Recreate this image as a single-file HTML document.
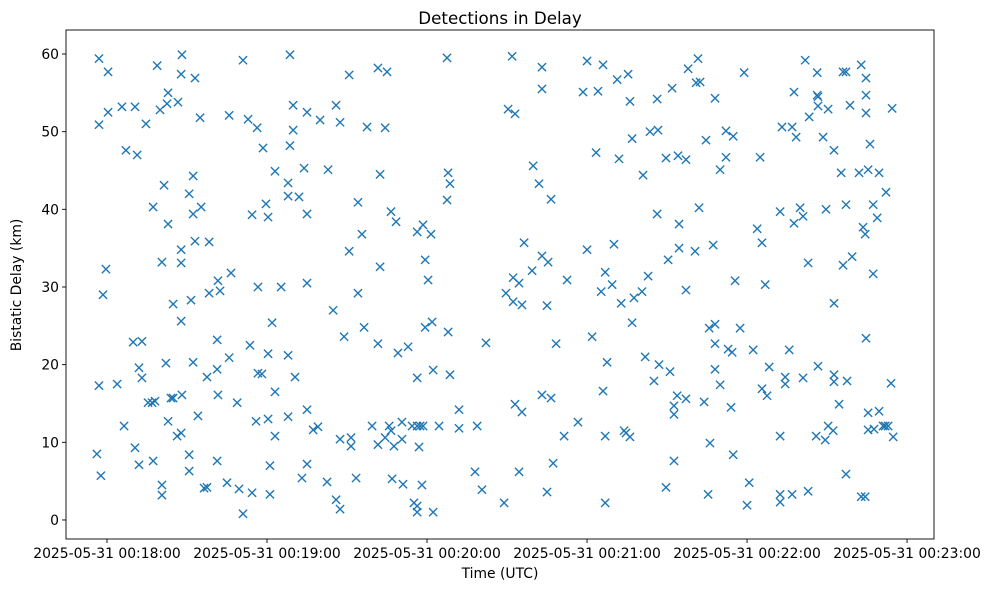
<!DOCTYPE html>
<html><head><meta charset="utf-8"><style>
html,body{margin:0;padding:0;background:#fff;}
svg text{font-family:"DejaVu Sans","Liberation Sans",sans-serif;fill:#000;}
</style></head><body>
<svg id="chart" width="986" height="590" viewBox="0 0 986 590" xmlns="http://www.w3.org/2000/svg">
<rect x="0" y="0" width="986" height="590" fill="#fff"/>
<text x="500" y="24" font-size="16.7" text-anchor="middle">Detections in Delay</text>
<text x="500" y="578" font-size="13.9" text-anchor="middle">Time (UTC)</text>
<text x="21" y="285" font-size="13.9" text-anchor="middle" transform="rotate(-90 21 285)">Bistatic Delay (km)</text>
<g id="ticks"></g>
<g id="marks"></g>
<rect x="66" y="30" width="868" height="509" fill="none" stroke="#000" stroke-width="0.9"/>
</svg>
<script>
// seconds after 2025-05-31 00:18:00 UTC
const times = [-3.0,0.4,18.8,28.1,27.8,33.0,51.0,22.9,22.5,19.9,26.6,5.6,10.5,0.4,-3.0,14.6,34.9,45.8,52.9,56.3,7.1,11.3,32.3,21.4,30.8,17.3,32.3,35.3,54.4,22.9,33.0,38.3,27.8,20.6,27.8,-0.4,-1.5,46.5,41.6,42.4,38.3,31.5,24.8,27.8,56.6,9.8,13.1,41.3,53.6,22.1,32.3,12.0,13.1,45.8,41.3,37.5,56.6,-3.0,3.8,15.4,16.9,18.0,24.0,24.8,28.1,41.6,48.8,6.4,22.9,34.1,55.9,26.3,27.8,-3.8,10.5,12.0,17.3,30.8,30.8,41.3,-2.3,20.6,20.6,36.4,37.5,45.0,49.5,54.4,51.0,
68.6,90.8,101.6,105.0,69.8,75.0,79.9,85.9,87.4,97.5,104.3,69.8,58.5,68.6,63.0,73.9,82.9,102.4,67.9,67.9,72.0,59.6,60.4,75.0,94.1,106.5,108.4,116.3,118.5,121.5,95.6,90.8,102.4,119.3,120.4,65.3,75.0,94.1,84.8,61.9,96.4,88.9,101.6,109.1,112.9,119.3,121.9,60.4,67.9,58.1,70.5,116.3,122.3,63.0,60.4,67.9,75.0,77.3,79.1,63.0,87.4,91.5,91.5,99.4,101.6,104.3,106.5,105.8,107.6,110.6,110.6,114.4,116.3,117.4,118.5,117.0,61.1,75.0,73.1,82.5,93.4,106.9,111.0,118.1,61.1,85.9,87.4,115.1,116.3,116.3,122.3,
127.5,151.9,163.1,180.0,186.0,163.1,178.5,184.1,150.4,153.0,183.4,159.8,127.9,128.6,162.0,127.5,166.5,156.4,180.0,163.1,165.4,159.4,152.3,154.5,172.5,186.8,185.3,149.6,152.3,155.6,165.0,127.9,142.1,168.4,181.9,187.5,128.6,186.0,163.1,166.5,153.0,155.6,132.0,124.5,132.0,138.8,176.6,171.4,186.8,138.0,154.5,167.3,140.6,165.0,148.9,186.8,
191.3,195.4,217.9,221.6,220.9,222.4,211.9,238.9,196.1,206.3,228.0,196.9,203.6,206.6,224.6,232.1,234.8,192.0,209.6,214.1,217.1,232.1,244.9,229.9,201.0,206.3,222.0,214.5,243.8,245.6,190.1,214.5,220.5,227.3,210.4,189.4,202.9,217.1,235.5,246.8,197.6,200.6,192.8,196.9,225.8,228.0,237.4,228.0,232.9,234.4,242.3,201.8,207.0,211.1,228.0,248.3,205.1,229.9,245.6,247.5,213.8,217.1,223.9,212.6,212.6,234.0,193.9,194.6,196.1,226.1,234.8,212.6,209.6,225.4,240.8,240.0,
261.8,266.3,276.0,277.1,282.8,284.6,257.6,266.3,266.6,284.6,266.6,270.4,278.6,284.6,294.4,263.3,253.1,256.9,258.4,268.5,272.6,286.1,275.3,282.0,285.4,289.5,292.1,252.4,259.9,261.0,257.6,269.6,277.1,287.3,288.8,283.5,284.3,262.9,276.0,279.4,287.3,272.6,284.6,255.8,266.6,254.3,254.3,261.0,272.6,272.6,277.5,294.0,274.5,285.4,289.5,252.4,265.9,269.3,270.4,272.3,285.4,287.6,291.0,291.8,292.9,294.8,277.1,252.4,252.4,256.9,262.9,282.8,284.3];
const delays = [59.4,57.7,58.5,59.9,57.4,56.9,59.2,55.0,53.6,52.8,53.8,53.2,53.2,52.5,50.9,51.0,51.8,52.1,51.6,50.5,47.6,47.0,44.3,43.1,42.0,40.3,39.4,40.3,39.3,38.1,35.9,35.8,34.8,33.2,33.1,32.3,29.0,31.8,30.8,29.5,29.2,28.3,27.8,25.6,30.0,22.9,23.0,23.2,22.5,20.2,20.3,19.6,18.3,20.9,19.4,18.4,18.9,17.3,17.5,15.1,15.1,15.3,15.7,15.7,16.1,16.1,15.1,12.1,12.7,13.4,12.7,10.8,11.2,8.5,9.3,7.1,7.6,8.4,6.3,7.6,5.7,4.5,3.2,4.1,4.2,4.8,4.0,3.5,0.8,
59.9,57.3,58.2,57.7,53.4,52.5,51.5,53.4,51.2,50.6,50.5,50.2,47.9,48.2,44.9,45.3,45.1,44.5,43.4,41.7,41.6,40.7,39.0,39.4,40.9,39.7,38.4,37.1,38.0,36.8,36.8,34.6,32.6,33.5,30.9,30.0,30.5,29.2,27.0,25.4,24.8,23.6,22.7,21.5,22.3,24.8,25.5,21.4,21.2,18.8,18.4,18.3,19.3,16.5,13.0,13.3,14.2,11.6,12.0,10.8,10.4,10.6,9.5,12.1,9.7,10.6,11.5,12.1,9.5,10.4,12.6,12.1,12.1,12.1,12.1,9.4,7.0,7.2,5.4,4.9,5.4,5.3,4.6,4.5,3.3,2.6,1.4,2.2,1.8,1.0,1.0,
59.5,59.7,58.3,59.1,58.6,55.5,55.1,55.2,52.9,52.3,47.3,45.6,44.7,43.3,43.3,41.2,41.3,35.7,34.8,34.0,33.2,32.1,31.2,30.5,30.9,31.9,29.4,29.2,28.1,27.7,27.6,24.2,22.8,22.7,23.6,20.3,18.7,16.6,16.1,15.7,14.9,13.9,14.2,12.1,11.8,12.1,12.6,10.8,10.8,6.2,6.2,7.3,3.9,3.6,2.2,2.2,
56.7,57.4,58.1,59.4,56.3,56.4,55.6,57.6,53.9,54.2,54.3,49.1,50.0,50.2,48.9,50.1,49.4,46.5,46.6,46.9,46.4,46.7,46.7,45.1,44.4,39.4,40.2,38.1,37.5,35.7,35.5,35.0,34.6,35.4,33.5,30.3,31.4,29.6,30.8,30.3,28.6,29.4,27.9,25.4,24.7,25.2,24.7,22.7,22.0,21.6,21.9,21.0,20.0,19.1,19.4,19.7,17.9,17.4,16.9,16.0,16.0,15.6,15.2,14.7,13.6,14.5,11.5,11.2,10.7,9.9,8.4,7.6,4.2,3.3,4.8,1.9,
59.2,57.6,57.7,57.7,58.6,56.9,55.1,54.7,54.5,54.7,53.3,52.9,53.4,52.4,53.0,51.9,50.6,50.6,49.3,49.3,47.6,48.4,44.7,44.7,45.1,44.7,42.2,39.7,40.2,39.1,38.2,40.0,40.6,40.6,38.9,37.7,36.8,33.1,32.8,33.9,31.7,27.9,23.4,21.9,19.8,18.4,17.5,18.3,18.7,17.8,17.9,17.6,14.9,13.8,14.0,10.8,10.8,10.3,12.1,11.5,11.6,11.7,12.1,12.1,12.1,10.7,5.9,3.3,2.3,3.3,3.7,3.0,3.0];
const yTickValues = [0,10,20,30,40,50,60];
const xTickValues = [0,60,120,180,240,300];
const xTickLabels = ["2025-05-31 00:18:00","2025-05-31 00:19:00","2025-05-31 00:20:00","2025-05-31 00:21:00","2025-05-31 00:22:00","2025-05-31 00:23:00"];

const X0=66,X1=934,Y0=30,Y1=539;
const tMin=-15.375,tMax=310.1,kMin=-2.45,kMax=63.09;
function xs(t){return X0+(t-tMin)/(tMax-tMin)*(X1-X0);}
function ys(k){return Y1-(k-kMin)/(kMax-kMin)*(Y1-Y0);}
const NS="http://www.w3.org/2000/svg";
const ticks=document.getElementById('ticks');
yTickValues.forEach(function(v){
  const y=ys(v);
  const l=document.createElementNS(NS,'line');
  l.setAttribute('x1',X0-4);l.setAttribute('x2',X0);l.setAttribute('y1',y);l.setAttribute('y2',y);
  l.setAttribute('stroke','#000');l.setAttribute('stroke-width','0.9');
  
  
  ticks.appendChild(l);
  const t=document.createElementNS(NS,'text');
  t.setAttribute('x',X0-7);t.setAttribute('y',y+5);t.setAttribute('font-size','13.9');t.setAttribute('text-anchor','end');
  t.textContent=String(v);
  
  
  ticks.appendChild(t);
});
xTickValues.forEach(function(v,i){
  const x=xs(v);
  const l=document.createElementNS(NS,'line');
  l.setAttribute('x1',x);l.setAttribute('x2',x);l.setAttribute('y1',Y1);l.setAttribute('y2',Y1+4);
  l.setAttribute('stroke','#000');l.setAttribute('stroke-width','0.9');
  
  
  ticks.appendChild(l);
  const t=document.createElementNS(NS,'text');
  t.setAttribute('x',x);t.setAttribute('y',Y1+19);t.setAttribute('font-size','13.9');t.setAttribute('text-anchor','middle');
  t.textContent=xTickLabels[i];
  
  
  ticks.appendChild(t);
});
const marks=document.getElementById('marks');
const r=4.1;
for(let i=0;i<times.length&&i<delays.length;i++){
  const cx=xs(times[i]),cy=ys(delays[i]);
  const p=document.createElementNS(NS,'path');
  p.setAttribute('d','M'+(cx-r)+' '+(cy-r)+'L'+(cx+r)+' '+(cy+r)+'M'+(cx-r)+' '+(cy+r)+'L'+(cx+r)+' '+(cy-r));
  p.setAttribute('stroke','#1f77b4');p.setAttribute('stroke-width','1.4');p.setAttribute('fill','none');
  
  
  marks.appendChild(p);
}
</script>
</body></html>
